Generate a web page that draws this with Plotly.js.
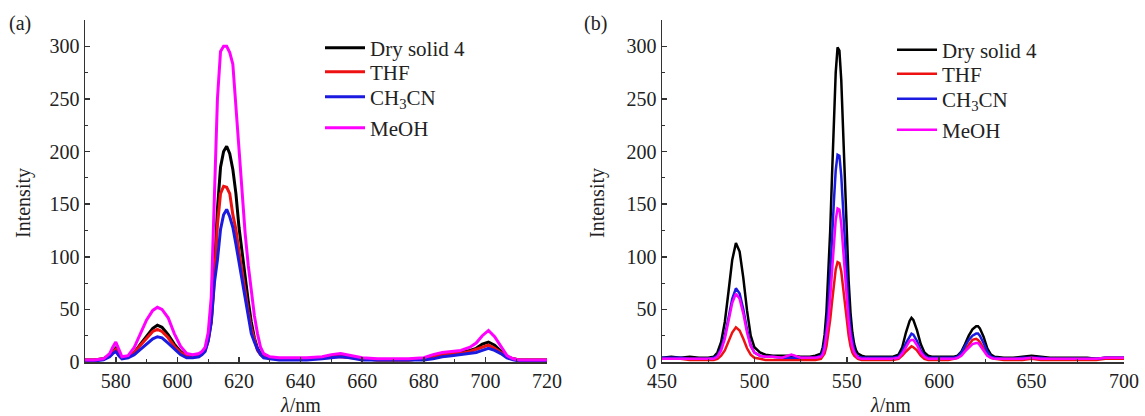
<!DOCTYPE html>
<html>
<head>
<meta charset="utf-8">
<script src="https://cdn.plot.ly/plotly-3.0.1.min.js"></script>
<style>html,body{margin:0;padding:0;background:#fff;}#chart{width:1145px;height:416px;}</style>
</head>
<body>
<div id="chart"></div>
<script>
// ---------- Panel (a) ----------
var wavelengthA = [570,573,576,578,579,580,581,582,584,586,588,590,592,593.5,595,597,599,601,603,605,607,608,609,610,611,612,613,614,615,616,617,618,619,620,621,622,623,624,625,626,627,628,630,633,637,642,647,650,653,656,660,665,670,675,680,683,686,689,692,695,697,699,701,703,705,707,709,711,715,720];
var dryA  = [2,2,3,6,10, 13,8,4,5,9, 17,25,32,35,33, 26,17,10,6,5, 7,9,12,22,40, 85,145,185,200,205, 198,183,160,128,105, 78,58,38,23,13, 8,5,4,3,3, 3,4,5,6,5, 3,2,2,2,3, 5,7,8,9,11, 13,17,19,16,10, 5,3,2,2,2];
var thfA  = [2,2,3,6,9, 12,7,4,5,9, 16,23,29,31,29, 23,15,9,6,5, 6,8,11,20,38, 78,130,160,167,166, 160,140,126,105,85, 65,48,32,20,11, 7,5,4,3,3, 3,4,5,5,4, 3,2,2,2,3, 5,7,8,8,10, 12,14,16,13,9, 5,3,2,2,2];
var mecnA = [1,1,2,5,8, 10,6,3,4,7, 12,17,22,24,23, 18,12,7,4,4, 5,7,10,20,38, 75,97,126,140,145, 138,128,112,95,78, 58,40,27,19,12, 7,4,3,2,2, 2,3,4,5,4, 2,2,2,2,2, 3,5,6,7,8, 9,11,13,11,8, 4,2,1,1,1];
var meohA = [2,2,3,8,14, 19,12,5,6,14, 27,40,49,52,50, 42,27,15,8,7, 8,10,14,28,62, 150,250,295,300,300, 294,283,243,200,157, 122,92,65,44,27, 14,8,5,4,4, 4,5,7,8,6, 4,3,3,3,4, 7,9,10,11,14, 18,25,30,24,15, 6,3,2,2,2];

// ---------- Panel (b) ----------
var wavelengthB = [450,455,460,465,470,475,478,480,482,484,486,488,490,492,494,496,498,500,503,506,510,515,520,525,530,533,536,537,538,539,540,541,542,543,544,545,546,547,548,549,550,551,552,553,554,555,556,558,560,565,570,575,578,580,582,584,585,586,588,590,592,594,596,600,605,608,610,612,614,616,618,620,621,622,624,626,628,630,635,640,645,650,655,660,665,670,675,680,685,690,695,700];
var dryB  = [4,5,4,5,4,4,5,9,19,38,67,97,113,105,80,49,25,14,9,7,6,6,6,5,5,6,
             8,14,26,48,80,124,177,231,275,299,296,268,222,168,118,77,47,28,17,11,8,6,5,5,5,
             5,7,14,28,39,42,40,30,17,9,6,5,5,
             5,5,6,10,17,25,31,34,34,32,24,13,7,5,
             4,4,5,6,5,4,4,4,4,4,3,4,4,4];
var thfB  = [3,3,3,2,2,2,2,3,6,11,19,28,33,30,22,13,7,4,3,2,2,2,2,2,2,2,
             3,5,8,15,26,40,57,74,88,95,94,86,71,54,38,25,15,9,6,4,3,2,2,2,2,
             2,3,6,10,14,15,14,11,6,3,2,2,2,
             2,3,4,7,12,17,21,22,21,19,13,7,4,3,
             2,2,2,3,2,2,2,2,2,2,2,3,3,3];
var mecnB = [4,4,4,3,3,3,4,6,13,25,42,60,70,65,50,31,16,9,6,5,5,4,4,4,4,4,
             6,10,18,32,53,82,117,152,182,197,196,177,147,111,78,51,31,19,11,7,5,4,4,4,4,
             4,5,10,18,25,27,26,20,11,6,4,4,4,
             4,4,5,9,15,21,25,27,27,25,18,10,5,4,
             3,3,4,4,4,3,3,3,3,3,3,4,4,4];
var meohB = [3,3,3,3,3,3,3,5,11,22,39,56,65,60,46,28,15,9,6,5,5,4,7,4,4,4,
             5,7,13,24,39,61,87,113,135,146,145,131,109,82,58,38,24,14,9,6,4,3,3,3,3,
             3,4,8,14,20,21,21,16,9,5,3,3,3,
             3,3,4,6,10,14,17,18,18,16,11,6,4,3,
             3,3,3,4,3,3,3,3,3,3,3,4,4,4];

var seriesNames  = ['Dry solid 4', 'THF', 'CH<sub>3</sub>CN', 'MeOH'];
var seriesColors = ['#000000', '#ee1111', '#1a1ae0', '#ff00ff'];
var panelLabels  = ['(a)', '(b)'];
var xTitle = '<i>λ</i>/nm';
var yTitle = 'Intensity';

var FONT = 'Liberation Serif, Times New Roman, serif';
var W = 1145, H = 416;
function px(X) { return X / W; }
function py(Y) { return 1 - Y / H; }

// legend row positions (pixels) for each panel
var legendRowsA = [48, 72, 97, 128];
var legendRowsB = [50, 74, 99, 130];

var seriesA = [dryA, thfA, mecnA, meohA];
var seriesB = [dryB, thfB, mecnB, meohB];
var traces = [];
var legendCommon = {
  font: {family: FONT, size: 21, color: '#222'}, bgcolor: 'rgba(0,0,0,0)',
  borderwidth: 0, xanchor: 'left', yanchor: 'middle', itemwidth: 40
};
var legends = {};
function legName(k) { return k === 0 ? 'legend' : 'legend' + (k + 1); }

seriesA.forEach(function (ys, i) {
  var ln = legName(i);
  traces.push({x: wavelengthA, y: ys, type: 'scatter', mode: 'lines', name: seriesNames[i],
    line: {color: seriesColors[i], width: 3}, xaxis: 'x', yaxis: 'y', legend: ln});
  legends[ln] = Object.assign({}, legendCommon, {x: px(320), y: py(legendRowsA[i])});
});
seriesB.forEach(function (ys, i) {
  var ln = legName(i + 4);
  traces.push({x: wavelengthB, y: ys, type: 'scatter', mode: 'lines', name: seriesNames[i],
    line: {color: seriesColors[i], width: 2.5}, xaxis: 'x2', yaxis: 'y2', legend: ln});
  legends[ln] = Object.assign({}, legendCommon, {x: px(892), y: py(legendRowsB[i])});
});

var axisCommon = {
  showline: true, linecolor: '#333', linewidth: 1.5, mirror: false,
  ticks: 'inside', ticklen: 5, tickwidth: 1.5, tickcolor: '#333',
  showgrid: false, zeroline: false, fixedrange: true,
  tickfont: {family: FONT, size: 20, color: '#222'}
};
function ax(extra) { return Object.assign({}, axisCommon, extra); }
var minorX = function (d) { return {dtick: d, ticks: 'inside', ticklen: 3, tickwidth: 1, tickcolor: '#333'}; };

function ann(text, X, Y, angle) {
  return {text: text, x: px(X), y: py(Y), xref: 'paper', yref: 'paper', showarrow: false,
    xanchor: 'center', yanchor: 'middle', textangle: angle || 0,
    font: {family: FONT, size: 20, color: '#222'}};
}

var layout = Object.assign({
  width: W, height: H, margin: {l: 0, r: 0, t: 0, b: 0},
  paper_bgcolor: '#fff', plot_bgcolor: '#fff', showlegend: true,
  xaxis: ax({domain: [px(85), px(547)], range: [570, 720], dtick: 20, tick0: 580, anchor: 'y', minor: minorX(10)}),
  yaxis: ax({domain: [py(362), py(20)], range: [0, 325], dtick: 50, anchor: 'x', minor: minorX(25)}),
  xaxis2: ax({domain: [px(662), px(1124)], range: [450, 700], dtick: 50, anchor: 'y2', minor: minorX(25)}),
  yaxis2: ax({domain: [py(362), py(20)], range: [0, 325], dtick: 50, anchor: 'x2', minor: minorX(25)}),
  annotations: [
    ann(panelLabels[0], 20, 23),
    ann(panelLabels[1], 596, 23),
    ann(xTitle, 300, 405),
    ann(xTitle, 890, 405),
    ann(yTitle, 24, 203, -90),
    ann(yTitle, 598, 203, -90)
  ]
}, legends);

Plotly.newPlot('chart', traces, layout, {displayModeBar: false, staticPlot: true});
</script>
</body>
</html>
